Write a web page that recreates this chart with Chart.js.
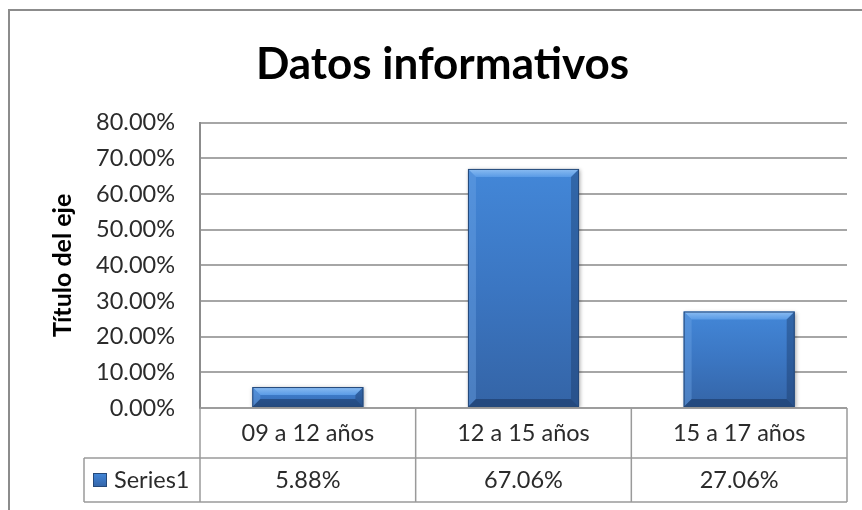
<!DOCTYPE html>
<html>
<head>
<meta charset="utf-8">
<script src="https://cdn.jsdelivr.net/npm/chart.js@4.4.1/dist/chart.umd.min.js"></script>
<style>
  body { margin: 0; background: #fff; }
  #wrap { width: 862px; height: 510px; position: relative; }
</style>
</head>
<body>
<div id="wrap"><canvas id="DatosInformativos"></canvas></div>
<script>
// data
var categories = ["09 a 12 años", "12 a 15 años", "15 a 17 años"];
var series1 = [5.88, 67.06, 27.06];
var seriesName = "Series1";
var yMin = 0, yMax = 80, yStep = 10;

var FONT = "Lato";
var TEXT = "#2b2b2b";
var SMALL = 23.5;

function pct(v) { return v.toFixed(2) + "%"; }

function barFill(ctx, top, bottom) {
  var g = ctx.createLinearGradient(0, top, 0, bottom);
  g.addColorStop(0, "#4387d8");
  g.addColorStop(0.5, "#3b76c2");
  g.addColorStop(1, "#3464a6");
  return g;
}

// white background + outer frame of the chart object
var framePlugin = {
  id: "frame",
  beforeDraw: function(chart) {
    var ctx = chart.ctx;
    ctx.save();
    ctx.fillStyle = "#fff";
    ctx.fillRect(0, 0, chart.width, chart.height);
    ctx.strokeStyle = "#8c8c8c";
    ctx.lineWidth = 2;
    ctx.strokeRect(9, 10, chart.width + 20, chart.height + 20);
    ctx.restore();
  }
};

// soft shadow under bars, then bevel edges
var shadowPlugin = {
  id: "barShadow",
  beforeDatasetsDraw: function(chart) {
    var ctx = chart.ctx;
    ctx.save();
    ctx.shadowColor = "rgba(0,0,0,0.35)";
    ctx.shadowBlur = 4;
    ctx.shadowOffsetX = 1;
    ctx.shadowOffsetY = 1;
  },
  afterDatasetsDraw: function(chart) {
    var ctx = chart.ctx;
    ctx.restore();
    var meta = chart.getDatasetMeta(0);
    meta.data.forEach(function(bar) {
      var l = bar.x - bar.width / 2, r = bar.x + bar.width / 2;
      var t = bar.y, b = bar.base;
      var bv = Math.min(8, (b - t) / 2);
      ctx.save();
      // top
      var tg = ctx.createLinearGradient(0, t, 0, t + bv);
      tg.addColorStop(0, "#8cbdf2");
      tg.addColorStop(1, "#5a9be6");
      ctx.fillStyle = tg;
      ctx.beginPath();
      ctx.moveTo(l, t); ctx.lineTo(r, t); ctx.lineTo(r - bv, t + bv); ctx.lineTo(l + bv, t + bv);
      ctx.closePath(); ctx.fill();
      // left
      ctx.fillStyle = "rgba(110,165,230,0.4)";
      ctx.beginPath();
      ctx.moveTo(l, t); ctx.lineTo(l + bv, t + bv); ctx.lineTo(l + bv, b - bv); ctx.lineTo(l, b);
      ctx.closePath(); ctx.fill();
      // right
      ctx.fillStyle = "rgba(25,55,100,0.4)";
      ctx.beginPath();
      ctx.moveTo(r, t); ctx.lineTo(r - bv, t + bv); ctx.lineTo(r - bv, b - bv); ctx.lineTo(r, b);
      ctx.closePath(); ctx.fill();
      // bottom
      ctx.fillStyle = "rgba(20,45,85,0.5)";
      ctx.beginPath();
      ctx.moveTo(l, b); ctx.lineTo(l + bv, b - bv); ctx.lineTo(r - bv, b - bv); ctx.lineTo(r, b);
      ctx.closePath(); ctx.fill();
      ctx.strokeStyle = "#25497a";
      ctx.lineWidth = 1;
      ctx.strokeRect(l + 0.5, t + 0.5, bar.width - 1, b - t - 1);
      ctx.restore();
    });
  }
};

// data table under the plot (categories row + values row + legend key)
var dataTablePlugin = {
  id: "dataTable",
  afterDraw: function(chart) {
    var ctx = chart.ctx, area = chart.chartArea, x = chart.scales.x;
    var n = categories.length;
    var cw = (area.right - area.left) / n;
    var r0 = area.bottom, r1 = r0 + 50, r2 = r1 + 44;
    var legendLeft = 84;
    ctx.save();
    ctx.strokeStyle = "#9a9a9a";
    ctx.lineWidth = 1.5;
    ctx.beginPath();
    ctx.moveTo(area.left, r0); ctx.lineTo(area.right, r0);
    ctx.moveTo(legendLeft, r1); ctx.lineTo(area.right, r1);
    ctx.moveTo(legendLeft, r2); ctx.lineTo(area.right, r2);
    ctx.moveTo(legendLeft, r1); ctx.lineTo(legendLeft, r2);
    for (var i = 0; i <= n; i++) {
      var bx = area.left + i * cw;
      ctx.moveTo(bx, r0); ctx.lineTo(bx, r2);
    }
    ctx.stroke();

    ctx.fillStyle = TEXT;
    ctx.font = SMALL + "px " + FONT;
    ctx.textAlign = "center";
    ctx.textBaseline = "middle";
    categories.forEach(function(c, i) {
      var cx = x.getPixelForValue(i);
      ctx.fillText(c, cx, (r0 + r1) / 2);
      ctx.fillText(pct(series1[i]), cx, (r1 + r2) / 2);
    });

    // legend key
    var ky = (r1 + r2) / 2;
    ctx.fillStyle = barFill(ctx, ky - 7, ky + 7);
    ctx.fillRect(93, ky - 7, 14, 14);
    ctx.strokeStyle = "#25497a";
    ctx.lineWidth = 1;
    ctx.strokeRect(93.5, ky - 6.5, 13, 13);
    ctx.fillStyle = TEXT;
    ctx.textAlign = "left";
    ctx.fillText(seriesName, 114, ky);
    ctx.restore();
  }
};

var ctx = document.getElementById("DatosInformativos").getContext("2d");
var myChart = new Chart(ctx, {
  type: "bar",
  data: {
    labels: categories,
    datasets: [
      {
        label: seriesName,
        data: series1,
        backgroundColor: function(c) {
          var chart = c.chart;
          if (!chart.chartArea) return "#3b76c2";
          var y = chart.scales.y;
          return barFill(chart.ctx, y.getPixelForValue(c.raw), y.getPixelForValue(0));
        },
        borderWidth: 0,
        categoryPercentage: 1,
        barPercentage: 0.515,
      },
    ],
  },
  options: {
    responsive: true,
    maintainAspectRatio: false,
    animation: false,
    layout: { padding: { left: 38, right: 15, top: 0, bottom: 102 } },
    plugins: {
      legend: { display: false },
      tooltip: { enabled: false },
      title: {
        display: true,
        text: "Datos informativos",
        color: "#000",
        font: { family: FONT, size: 44, weight: "bold" },
        padding: { top: 38, bottom: 32 },
      },
    },
    scales: {
      x: { display: false },
      y: {
        min: yMin,
        max: yMax,
        afterFit: function(scale) { scale.width = 162; },
        ticks: {
          stepSize: yStep,
          padding: 25,
          color: TEXT,
          font: { family: FONT, size: SMALL },
          callback: function(v) { return pct(v); },
        },
        grid: { color: "#a6a6a6", lineWidth: 2, drawTicks: false },
        border: { color: "#8c8c8c", width: 2 },
        title: {
          display: true,
          text: "Título del eje",
          color: "#000",
          font: { family: FONT, size: 25, weight: "bold" },
          padding: { top: 10, bottom: 0 },
        },
      },
    },
  },
  plugins: [framePlugin, shadowPlugin, dataTablePlugin],
});
</script>
</body>
</html>
